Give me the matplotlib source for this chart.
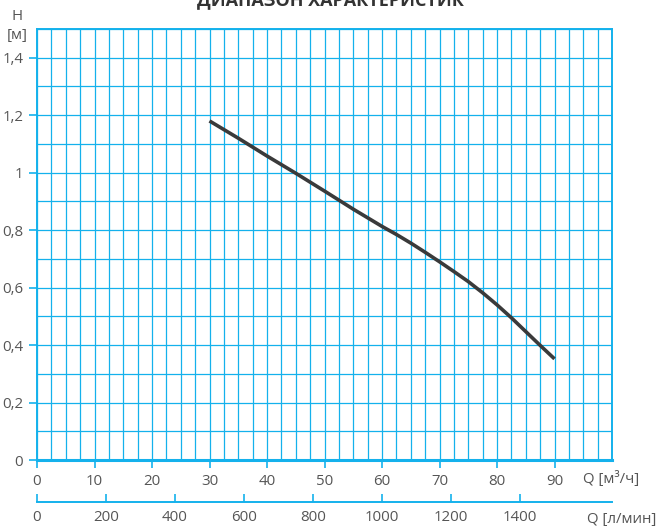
import numpy as np
import matplotlib.pyplot as plt
from matplotlib.ticker import MultipleLocator, FuncFormatter

plt.rcParams['font.family'] = ['Open Sans', 'DejaVu Sans']

# Данные кривой (Q в м3/ч, H в м)
q_m3h = [30, 35, 40, 45, 50, 55, 57.5, 60, 62.5, 65, 67.5, 70, 72.5, 75, 77.5, 80,
         82.5, 85, 87.5, 90]
h_m = [1.18, 1.12, 1.058, 0.998, 0.936, 0.873, 0.843, 0.813, 0.785, 0.755, 0.723,
       0.69, 0.656, 0.621, 0.582, 0.54, 0.495, 0.447, 0.399, 0.352]

x_ticks = [0, 10, 20, 30, 40, 50, 60, 70, 80, 90]
x2_ticks = [0, 200, 400, 600, 800, 1000, 1200, 1400]
y_ticks = [0, 0.2, 0.4, 0.6, 0.8, 1.0, 1.2, 1.4]

blue = '#14b1ec'
txt = '#555555'
fs = 10.8

fig = plt.figure(figsize=(6.58, 5.29), dpi=100)
ax = fig.add_axes([37 / 658, 1 - 460 / 529, 575 / 658, 431 / 529])

ax.set_xlim(0, 100)
ax.set_ylim(0, 1.5)

# сетка
ax.xaxis.set_minor_locator(MultipleLocator(2.5))
ax.yaxis.set_minor_locator(MultipleLocator(0.1))
ax.grid(which='both', color=blue, linewidth=0.9)
ax.set_axisbelow(True)

ax.set_xticks(x_ticks)
ax.set_yticks(y_ticks)
ax.yaxis.set_major_formatter(FuncFormatter(lambda v, p: ('%g' % v).replace('.', ',')))
ax.tick_params(which='major', direction='out', length=6, width=1.2, color=blue,
               labelsize=fs, labelcolor=txt, pad=4)
ax.tick_params(which='minor', length=0)

for s in ['top', 'right', 'left']:
    ax.spines[s].set_color(blue)
    ax.spines[s].set_linewidth(1.4)
ax.spines['bottom'].set_color(blue)
ax.spines['bottom'].set_linewidth(2.2)

ax.plot(q_m3h, h_m, color='#3a3a3a', linewidth=2.6, solid_capstyle='butt', zorder=5)

# вторая шкала л/мин
ax2 = fig.add_axes([37 / 658, 1 - 502 / 529, 575 / 658, 0.0001])
ax2.set_xlim(0, 100 / 0.06)
ax2.set_ylim(0, 1)
ax2.set_yticks([])
ax2.set_xticks(x2_ticks)
for s in ['top', 'right', 'left']:
    ax2.spines[s].set_visible(False)
ax2.spines['bottom'].set_color(blue)
ax2.spines['bottom'].set_linewidth(1.4)
ax2.tick_params(direction='in', length=6, width=1.2, color=blue,
                labelsize=fs, labelcolor=txt, pad=6)
ax2.patch.set_visible(False)

fig.text(583 / 658, 1 - 479 / 529, 'Q [м³/ч]', fontsize=fs, color=txt, ha='left', va='center')
fig.text(587 / 658, 1 - 520 / 529, 'Q [л/мин]', fontsize=fs, color=txt, ha='left', va='center')
fig.text(17 / 658, 1 - 17 / 529, 'H', fontsize=fs, color=txt, ha='center', va='center')
fig.text(17 / 658, 1 - 35 / 529, '[м]', fontsize=fs, color=txt, ha='center', va='center')
fig.text(330 / 658, 1.0, 'ДИАПАЗОН ХАРАКТЕРИСТИК', fontsize=13, fontweight='bold',
         color='#333333', ha='center', va='center')

fig.savefig('out.png', dpi=100)
